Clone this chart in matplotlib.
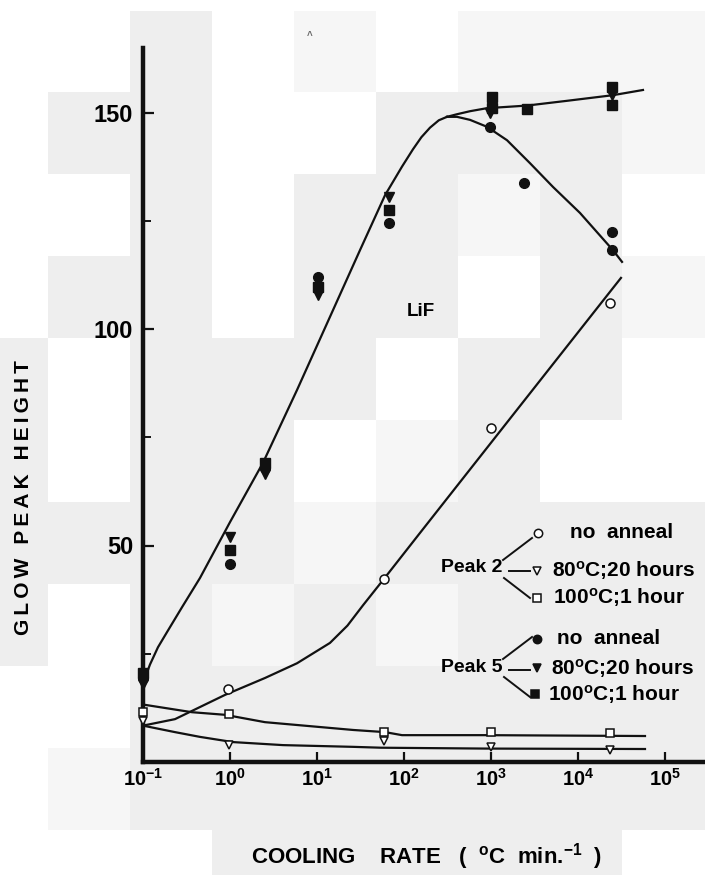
import matplotlib
matplotlib.use('Agg')
import matplotlib.pyplot as plt
import numpy as np
from matplotlib.patches import Rectangle
from matplotlib.lines import Line2D
from matplotlib.ticker import NullLocator, FixedLocator

plt.rcParams['font.family'] = ['Liberation Sans', 'DejaVu Sans']
plt.rcParams['font.weight'] = 'bold'
plt.rcParams['mathtext.fontset'] = 'custom'
plt.rcParams['mathtext.rm'] = 'Liberation Sans:bold'
plt.rcParams['mathtext.it'] = 'Liberation Sans:bold'
plt.rcParams['mathtext.bf'] = 'Liberation Sans:bold'
plt.rcParams['mathtext.default'] = 'rm'

# ---- measured points, peak 5 (filled symbols) ----
p5_none_x = [0.1, 1.0, 2.5, 10.3, 67, 980, 2400, 24500, 24500]
p5_none_y = [19.4, 45.7, 67.9, 112.0, 124.5, 146.7, 133.7, 122.4, 118.2]
p5_80_x = [0.1, 1.0, 2.5, 10.3, 67, 980, 24500]
p5_80_y = [18.0, 52.0, 66.5, 107.9, 130.5, 150.0, 154.0]
p5_100_x = [0.1, 1.0, 2.5, 10.3, 67, 1030, 1030, 2600, 24500, 24500]
p5_100_y = [20.5, 49.0, 69.1, 109.7, 127.5, 153.6, 151.0, 150.8, 155.9, 151.7]

# ---- measured points, peak 2 (open symbols) ----
p2_none_x = [0.95, 59, 1000, 23500]
p2_none_y = [16.9, 42.3, 77.1, 106.0]
p2_80_x = [0.1, 0.97, 59, 1000, 23500]
p2_80_y = [9.5, 3.9, 4.8, 3.5, 2.8]
p2_100_x = [0.1, 0.97, 59, 1000, 23500]
p2_100_y = [11.5, 11.1, 6.9, 6.9, 6.7]

# ---- hand-drawn curves (log10 cooling rate, height) ----
rise5_lx = [-0.977, -0.92, -0.828, -0.724, -0.55, -0.345, 0.0, 0.379, 0.770,
            1.149, 1.494, 1.782, 1.977, 2.103, 2.2, 2.299, 2.4, 2.494]
rise5_y = [19.4, 22.5, 26.5, 30.0, 35.8, 42.5, 55.4, 69.1, 85.9,
           102.8, 118.2, 130.9, 137.5, 141.5, 144.3, 146.5, 148.2, 149.0]
upper5_lx = [2.494, 2.609, 2.759, 2.954, 3.414, 3.874, 4.402, 4.747]
upper5_y = [149.0, 149.6, 150.3, 151.0, 151.6, 152.7, 154.0, 155.2]
lower5_lx = [2.494, 2.609, 2.759, 2.954, 3.184, 3.448, 3.713, 4.023, 4.402, 4.506]
lower5_y = [149.0, 149.0, 148.3, 146.7, 143.6, 138.3, 132.8, 126.8, 118.2, 115.5]

none2_lx = [-1.0, -0.632, -0.057, 0.402, 0.770, 1.149, 1.35, 1.529, 1.770,
            2.172, 2.552, 3.046, 3.701, 4.368, 4.494]
none2_y = [8.4, 9.9, 15.5, 19.4, 22.8, 27.5, 31.5, 36.2, 42.3,
           52.6, 62.3, 74.9, 91.6, 108.6, 111.8]
ann100_lx = [-0.977, -0.437, -0.057, 0.402, 1.414, 1.782, 1.977, 2.931, 4.770]
ann100_y = [13.2, 11.5, 10.9, 9.2, 7.4, 6.9, 6.2, 6.2, 6.0]
ann80_lx = [-1.0, -0.632, -0.345, 0.034, 0.609, 1.414, 1.736, 2.931, 4.770]
ann80_y = [8.4, 6.9, 5.8, 4.6, 3.9, 3.5, 3.3, 3.1, 3.0]

decades = [-1, 0, 1, 2, 3, 4, 5]
major_y = [50, 100, 150]
minor_y = [25, 75, 125]

W, H = 705, 875
fig = plt.figure(figsize=(W / 100, H / 100), dpi=100)


def fx(px):
    return px / W


def fy(py):
    return 1 - py / H


# light tiled backdrop of the scanned page
col_edges = [0, 48, 130, 212, 294, 376, 458, 540, 622, 705]
row_edges = [11, 92, 174, 256, 338, 420, 502, 584, 666, 748, 830, 875]
tiles = [
    "wwgwlwlll",
    "wggwwgggl",
    "wwgwgglgw",
    "wggwggwgl",
    "gwgggwggw",
    "gwggwlgww",
    "gggglgggg",
    "gwglglggg",
    "wwggggggg",
    "wlggggggg",
    "wwwgggggw",
]
shade = {'g': '#eeeeee', 'l': '#f6f6f6'}
for r, row in enumerate(tiles):
    for c, ch in enumerate(row):
        if ch == 'w':
            continue
        x0, x1 = col_edges[c], col_edges[c + 1]
        y0, y1 = row_edges[r], row_edges[r + 1]
        fig.add_artist(Rectangle((fx(x0), fy(y1)), (x1 - x0) / W, (y1 - y0) / H,
                                 transform=fig.transFigure, facecolor=shade[ch],
                                 edgecolor='none', zorder=-10))

ax = fig.add_axes([fx(143), fy(762), (W - 143) / W, (762 - 48) / H])
ax.set_facecolor('none')
ax.set_xscale('log')
ax.set_xlim(0.1, 10 ** (-1 + (W - 143) / 87))
ax.set_ylim(0, (762 - 48) / 4.33)

for s in ['top', 'right']:
    ax.spines[s].set_visible(False)
for s in ['left', 'bottom']:
    ax.spines[s].set_linewidth(3.2)
    ax.spines[s].set_color('#111111')

ax.xaxis.set_major_locator(FixedLocator([10.0 ** k for k in decades]))
ax.xaxis.set_minor_locator(NullLocator())
ax.set_xticklabels([r'$10^{%d}$' % k for k in decades])
ax.tick_params(axis='x', direction='in', length=7, width=1.6, pad=4,
               labelsize=14.5, color='#111111')
ax.set_yticks(major_y)
ax.yaxis.set_minor_locator(FixedLocator(minor_y))
ax.set_yticklabels([str(v) for v in major_y])
ax.tick_params(axis='y', which='major', direction='in', length=8, width=1.6,
               pad=7, labelsize=17, color='#111111')
ax.tick_params(axis='y', which='minor', direction='in', length=6, width=1.4,
               color='#111111')

lc = '#111111'
for lx, ly in [(rise5_lx, rise5_y), (upper5_lx, upper5_y), (lower5_lx, lower5_y),
               (none2_lx, none2_y), (ann100_lx, ann100_y), (ann80_lx, ann80_y)]:
    ax.plot(10 ** np.array(lx), ly, color=lc, lw=1.6)

mk = dict(linestyle='none', clip_on=False, zorder=5)
ax.plot(p2_none_x, p2_none_y, 'o', ms=6.5, mfc='white', mec=lc, mew=1.1, **mk)
ax.plot(p2_80_x, p2_80_y, 'v', ms=6, mfc='white', mec=lc, mew=1.1, **mk)
ax.plot(p2_100_x, p2_100_y, 's', ms=6, mfc='white', mec=lc, mew=1.1, **mk)
ax.plot(p5_80_x, p5_80_y, 'v', ms=6.5, color=lc, **mk)
ax.plot(p5_100_x, p5_100_y, 's', ms=6.5, color=lc, **mk)
ax.plot(p5_none_x, p5_none_y, 'o', ms=7, color=lc, **mk)

fig.text(fx(421), fy(312), 'LiF', fontsize=13.5, ha='center', va='center')

# axis titles
sp = '\u2009'
ylab = (sp + ' ' + sp).join(sp.join(w) for w in ['GLOW', 'PEAK', 'HEIGHT'])
fig.text(fx(24), fy(498), ylab, rotation=90, fontsize=15, ha='center', va='center')
fig.text(fx(427), fy(857),
         'COOLING    RATE   (  $^{o}$C  min.$^{-1}$  )',
         fontsize=16, ha='center', va='center')
fig.text(fx(310), fy(36), '^', fontsize=7, color='#666666', ha='center', va='center')

# bracketed key
key_fs = 15


def key_block(label, ly, rows, filled):
    fig.text(fx(441), fy(ly), label, fontsize=14, ha='left', va='center')
    lines = [((503, ly - 8), (532, ly - 30)),
             ((509, ly + 3), (530, ly + 3)),
             ((504, ly + 10), (530, ly + 30))]
    for (a, b) in lines:
        fig.add_artist(Line2D([fx(a[0]), fx(b[0])], [fy(a[1]), fy(b[1])],
                              transform=fig.transFigure, color=lc, lw=1.4))
    for (mx, my, m, tx, txt) in rows:
        fig.add_artist(Line2D([fx(mx)], [fy(my)], transform=fig.transFigure,
                              marker=m, ms=6,
                              mfc=lc if filled else 'white', mec=lc, mew=1.1,
                              linestyle='none'))
        fig.text(fx(tx), fy(my), txt, fontsize=key_fs, ha='left', va='center')


key_block('Peak 2', 568,
          [(538, 533, 'o', 570, 'no  anneal'),
           (537, 571, 'v', 552, '80$^{o}$C;20 hours'),
           (537, 598, 's', 553, '100$^{o}$C;1 hour')], False)
key_block('Peak 5', 667,
          [(537, 639, 'o', 557, 'no  anneal'),
           (537, 668, 'v', 551, '80$^{o}$C;20 hours'),
           (535, 694, 's', 548, '100$^{o}$C;1 hour')], True)

fig.savefig('out.png', dpi=100)
